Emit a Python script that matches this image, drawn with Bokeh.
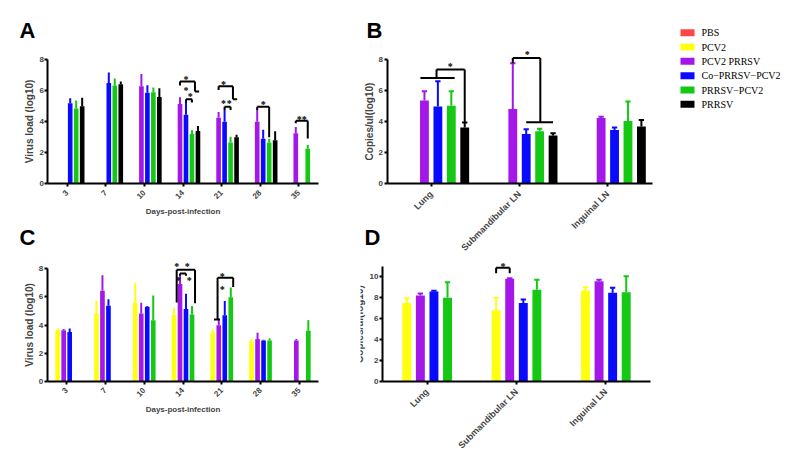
import math
from bokeh.plotting import figure
from bokeh.models import (ColumnDataSource, FactorRange, Range1d, Label, LabelSet)
from bokeh.transform import dodge
from bokeh.layouts import row, column
from bokeh.embed import file_html
from bokeh.resources import INLINE

FONT = "Liberation Sans"

groups = ["PBS", "PCV2", "PCV2  PRRSV", "Co\u2212PRRSV\u2212PCV2", "PRRSV\u2212PCV2", "PRRSV"]
colors = ["#ff4545", "#ffff10", "#a318e8", "#0a0aff", "#14c814", "#000000"]

days = ["3", "7", "10", "14", "21", "28", "35"]
tissues = ["Lung", "Submandibular LN", "Inguinal LN"]

# ---------------- Panel A : virus load by day ----------------
A_mean_PCV2_PRRSV = [None, None, 6.30, 5.15, 4.25, 4.00, 3.25]
A_sd_PCV2_PRRSV = [None, None, 0.78, 0.43, 0.37, 0.78, 0.40]
A_mean_Co = [5.20, 6.50, 5.88, 4.45, 4.00, 2.90, None]
A_sd_Co = [0.32, 0.68, 0.48, 0.85, 0.75, 0.58, None]
A_mean_PRRSV_PCV2 = [4.85, 6.35, 5.90, 3.20, 2.65, 2.65, 2.25]
A_sd_PRRSV_PCV2 = [0.53, 0.45, 0.32, 0.25, 0.37, 0.25, 0.25]
A_mean_PRRSV = [5.00, 6.42, 5.60, 3.40, 3.00, 2.80, None]
A_sd_PRRSV = [0.55, 0.18, 0.57, 0.32, 0.15, 0.58, None]

# significance brackets: (category, slot0, y0, slot1, y1)
A_brackets = [
    ("14", 2, 6.35, 2, 6.6), ("14", 2, 6.6, 4.5, 6.6), ("14", 4.5, 6.6, 4.5, 5.95), ("14", 4.5, 5.95, 5.2, 5.95),
    ("14", 3, 5.25, 3, 5.45), ("14", 3, 5.45, 4, 5.45), ("14", 4, 5.45, 4, 5.25),
    ("21", 2, 6.05, 2, 6.3), ("21", 2, 6.3, 4.4, 6.3), ("21", 4.4, 6.3, 4.4, 5.45), ("21", 4.4, 5.45, 5.1, 5.45),
    ("21", 3, 4.75, 3, 4.97), ("21", 3, 4.97, 4, 4.97), ("21", 4, 4.97, 4, 4.75),
    ("28", 2, 4.75, 2, 4.97), ("28", 2, 4.97, 4, 4.97), ("28", 4, 4.97, 4, 3.0),
    ("35", 2, 3.9, 2, 4.06), ("35", 2, 4.06, 4, 4.06), ("35", 4, 4.06, 4, 2.92),
]
A_stars = [("14", 3.0, 6.75, "*"), ("14", 3.0, 6.0, "*"), ("14", 3.7, 5.6, "*"),
           ("21", 2.8, 6.4, "*"), ("21", 2.8, 5.2, "*"), ("21", 3.8, 5.2, "*"),
           ("28", 3.0, 5.1, "*"), ("35", 3.0, 4.15, "**")]

# ---------------- Panel B : copies in tissues ----------------
B_mean_PCV2_PRRSV = [5.35, 4.80, 4.22]
B_sd_PCV2_PRRSV = [0.60, 2.96, 0.08]
B_mean_Co = [4.96, 3.20, 3.45]
B_sd_Co = [1.64, 0.30, 0.17]
B_mean_PRRSV_PCV2 = [5.02, 3.37, 4.04]
B_sd_PRRSV_PCV2 = [0.93, 0.17, 1.25]
B_mean_PRRSV = [3.62, 3.10, 3.68]
B_sd_PRRSV = [0.32, 0.14, 0.42]

B_brackets = [
    ("Lung", 1.7, 6.81, 4.25, 6.81), ("Lung", 2.9, 6.81, 2.9, 7.35), ("Lung", 2.9, 7.35, 5.0, 7.35),
    ("Lung", 5.0, 7.35, 5.0, 3.95),
    ("Submandibular LN", 2, 7.76, 2, 8.1), ("Submandibular LN", 2, 8.1, 4.05, 8.1),
    ("Submandibular LN", 4.05, 8.1, 4.05, 3.95), ("Submandibular LN", 3, 3.95, 5, 3.95),
]
B_stars = [("Lung", 3.93, 7.55, "*"), ("Submandibular LN", 3.07, 8.3, "*")]

# ---------------- Panel C : virus load by day ----------------
C_mean_PCV2 = [3.65, 4.82, 5.59, 4.72, 3.49, 2.85, None]
C_sd_PCV2 = [0.10, 0.91, 1.41, 0.51, 0.20, 0.15, None]
C_mean_PCV2_PRRSV = [3.62, 6.43, 4.82, 6.92, 3.98, 3.00, 2.90]
C_sd_PCV2_PRRSV = [0.10, 1.11, 0.77, 0.62, 0.48, 0.45, 0.10]
C_mean_Co = [3.50, 5.37, 5.30, 5.13, 4.70, 2.90, None]
C_sd_Co = [0.25, 0.46, 0.05, 1.09, 1.01, 0.05, None]
C_mean_PRRSV_PCV2 = [None, None, 4.34, 4.75, 5.98, 2.90, 3.60]
C_sd_PRRSV_PCV2 = [None, None, 1.76, 0.60, 0.69, 0.15, 0.75]

C_brackets = [
    ("14", 1.45, 5.6, 1.45, 7.94), ("14", 1.45, 7.94, 4.5, 7.94), ("14", 4.5, 7.94, 4.5, 5.55),
    ("14", 2, 7.5, 2, 7.67), ("14", 2, 7.67, 3, 7.67), ("14", 3, 7.67, 3, 7.5),
    ("21", 1.2, 4.4, 2.2, 4.4), ("21", 1.8, 4.4, 1.8, 7.37), ("21", 1.8, 7.37, 4.4, 7.37),
    ("21", 4.4, 7.37, 4.4, 6.7),
]
C_stars = [("14", 1.45, 8.15, "*"), ("14", 3.2, 8.15, "*"), ("14", 1.7, 7.15, "*"), ("14", 3.55, 7.15, "*"),
           ("21", 2.6, 7.45, "*"), ("21", 2.6, 6.55, "*")]

# ---------------- Panel D : copies in tissues ----------------
D_mean_PCV2 = [7.48, 6.78, 8.66]
D_sd_PCV2 = [0.45, 1.18, 0.32]
D_mean_PCV2_PRRSV = [8.18, 9.78, 9.55]
D_sd_PCV2_PRRSV = [0.20, 0.06, 0.13]
D_mean_Co = [8.57, 7.48, 8.44]
D_sd_Co = [0.06, 0.32, 0.48]
D_mean_PRRSV_PCV2 = [7.96, 8.73, 8.50]
D_sd_PRRSV_PCV2 = [1.50, 0.95, 1.53]

D_brackets = [("Submandibular LN", 1, 10.3, 1, 10.83), ("Submandibular LN", 1, 10.83, 2, 10.83),
              ("Submandibular LN", 2, 10.83, 2, 10.3)]
D_stars = [("Submandibular LN", 1.5, 10.95, "*")]


def make_fig(cats, pad, border_l, frame_w, border_r, canvas_h, y0px, ppu, ytop, yticks):
    """Frame fills the canvas; axes are pinned at x=0 / y=0 with fixed_location."""
    p = figure(x_range=FactorRange(*cats, range_padding=pad, range_padding_units="absolute"),
               y_range=Range1d(-(canvas_h - y0px) / ppu, y0px / ppu),
               frame_width=frame_w, frame_height=canvas_h,
               min_border_left=border_l, min_border_right=border_r,
               min_border_top=0, min_border_bottom=0, title=None,
               output_backend="svg", toolbar_location=None)
    p.xgrid.visible = False
    p.ygrid.visible = False
    p.outline_line_color = None
    p.background_fill_color = "white"
    p.border_fill_color = "white"
    for ax in p.axis:
        ax.axis_line_width = 2
        ax.major_tick_line_width = 2
        ax.major_tick_out = 3
        ax.major_tick_in = 0
        ax.minor_tick_line_color = None
        ax.major_label_text_font = FONT
        ax.major_label_text_font_style = "bold"
        ax.major_label_text_font_size = "8px"
        ax.axis_label_text_font = FONT
        ax.axis_label_text_font_style = "bold"
    p.yaxis.fixed_location = 0
    p.yaxis.bounds = (0, ytop)
    p.yaxis.ticker = yticks
    p.yaxis.major_label_standoff = 1
    p.xaxis.fixed_location = 0
    p.xaxis.bounds = (0, len(cats))
    p.xaxis.major_label_orientation = math.pi / 4
    return p


def draw_bars(p, cats, series, spacing, width, caps):
    for gi, means, sds in series:
        xs, tops, errs = [], [], []
        for c, m, s in zip(cats, means, sds):
            if m is None:
                continue
            xs.append(c)
            tops.append(m)
            errs.append(m + s)
        src = ColumnDataSource(dict(cat=xs, top=tops, err=errs))
        off = (gi - 2.5) * spacing
        xd = dodge("cat", off, range=p.x_range)
        p.vbar(x=xd, top="top", width=width, source=src,
               fill_color=colors[gi], line_color=None)
        p.segment(x0=xd, y0="top", x1=xd, y1="err", source=src,
                  line_color=colors[gi], line_width=2)
        if caps:
            p.rect(x=xd, y="err", width=width * 0.6, height=2, height_units="screen",
                   source=src, fill_color=colors[gi], line_color=None)


def draw_sig(p, brackets, stars, spacing):
    src = ColumnDataSource(dict(
        x0=[(c, (s0 - 2.5) * spacing) for c, s0, y0, s1, y1 in brackets],
        y0=[y0 for c, s0, y0, s1, y1 in brackets],
        x1=[(c, (s1 - 2.5) * spacing) for c, s0, y0, s1, y1 in brackets],
        y1=[y1 for c, s0, y0, s1, y1 in brackets]))
    p.segment(x0="x0", y0="y0", x1="x1", y1="y1", source=src,
              line_color="black", line_width=2)
    ssrc = ColumnDataSource(dict(
        x=[(c, (s - 2.5) * spacing) for c, s, y, t in stars],
        y=[y for c, s, y, t in stars],
        t=[t for c, s, y, t in stars]))
    p.add_layout(LabelSet(x="x", y="y", text="t", source=ssrc, text_align="center",
                          text_baseline="middle", text_font=FONT, text_font_style="bold",
                          text_font_size="10px", text_color="black"))


def letter(p, txt, x, y):
    p.add_layout(Label(x=x, y=y, x_units="screen", y_units="screen", text=txt,
                       text_font=FONT, text_font_style="bold", text_font_size="22px",
                       text_baseline="middle", text_color="black"))


SP_DAY, W_DAY = 0.155, 0.12
SP_TIS, W_TIS = 0.152, 0.10

# Panel A  (canvas 350 x 225 at top-left)
pA = make_fig(days, 0.84, 15, 335, 0, 225, 183.0, 15.45, 8, [0, 2, 4, 6, 8])
draw_bars(pA, days, [(2, A_mean_PCV2_PRRSV, A_sd_PCV2_PRRSV), (3, A_mean_Co, A_sd_Co),
                     (4, A_mean_PRRSV_PCV2, A_sd_PRRSV_PCV2), (5, A_mean_PRRSV, A_sd_PRRSV)],
          SP_DAY, W_DAY, False)
draw_sig(pA, A_brackets, A_stars, SP_DAY)
pA.yaxis.axis_label = "Virus load (log10)"
pA.yaxis.axis_label_text_font_size = "10px"
pA.yaxis.axis_label_standoff = 1
pA.xaxis.axis_label = "Days-post-infection"
pA.xaxis.axis_label_text_font_size = "8px"
pA.xaxis.axis_label_standoff = 3
pA.xaxis.major_label_standoff = 5
letter(pA, "A", 4, 195)

# Panel C  (canvas 350 x 195 below A)
pC = make_fig(days, 0.82, 15, 335, 0, 195, 155.7, 14.05, 8, [0, 2, 4, 6, 8])
draw_bars(pC, days, [(1, C_mean_PCV2, C_sd_PCV2), (2, C_mean_PCV2_PRRSV, C_sd_PCV2_PRRSV),
                     (3, C_mean_Co, C_sd_Co), (4, C_mean_PRRSV_PCV2, C_sd_PRRSV_PCV2)],
          SP_DAY, W_DAY, False)
draw_sig(pC, C_brackets, C_stars, SP_DAY)
pC.yaxis.axis_label = "Virus load (log10)"
pC.yaxis.axis_label_text_font_size = "10px"
pC.yaxis.axis_label_standoff = 1
pC.xaxis.axis_label = "Days-post-infection"
pC.xaxis.axis_label_text_font_size = "8px"
pC.xaxis.axis_label_standoff = 3
pC.xaxis.major_label_standoff = 5
letter(pC, "C", 4, 183)

# Panel B  (canvas 328 x 258, right of A)
pB = make_fig(tissues, 0.30, 10, 318, 0, 258, 183.0, 15.5, 8, [0, 2, 4, 6, 8])
draw_bars(pB, tissues, [(2, B_mean_PCV2_PRRSV, B_sd_PCV2_PRRSV), (3, B_mean_Co, B_sd_Co),
                        (4, B_mean_PRRSV_PCV2, B_sd_PRRSV_PCV2), (5, B_mean_PRRSV, B_sd_PRRSV)],
          SP_TIS, W_TIS, True)
draw_sig(pB, B_brackets, B_stars, SP_TIS)
pB.yaxis.axis_label = "Copies/ul(log10)"
pB.yaxis.axis_label_text_font_size = "10px"
pB.yaxis.axis_label_standoff = 1
pB.xaxis.major_label_text_font_size = "9px"
pB.xaxis.major_label_standoff = 6
letter(pB, "B", 6, 228)
letter(pB, "D", 4, 21)

# Panel D  (canvas 329 x 194 below B)
pD = make_fig(tissues, 0.246, 10, 312, 7, 194, 122.7, 10.47, 11, [0, 2, 4, 6, 8, 10])
draw_bars(pD, tissues, [(1, D_mean_PCV2, D_sd_PCV2), (2, D_mean_PCV2_PRRSV, D_sd_PCV2_PRRSV),
                        (3, D_mean_Co, D_sd_Co), (4, D_mean_PRRSV_PCV2, D_sd_PRRSV_PCV2)],
          SP_TIS, W_TIS, True)
draw_sig(pD, D_brackets, D_stars, SP_TIS)
pD.yaxis.axis_label = "Copies/ul(log10)"
pD.yaxis.axis_label_text_font_size = "10px"
pD.yaxis.axis_label_standoff = 2
pD.xaxis.major_label_text_font_size = "9px"
pD.xaxis.major_label_standoff = 6

# Legend panel drawn from the group list
pL = figure(x_range=Range1d(0, 116), y_range=FactorRange(*reversed(groups)),
            frame_width=116, frame_height=86, min_border_left=0, min_border_right=0,
            min_border_top=25, min_border_bottom=0, title=None,
            output_backend="svg", toolbar_location=None,
            x_axis_location=None, y_axis_location=None)
pL.xgrid.visible = False
pL.ygrid.visible = False
pL.outline_line_color = None
lsrc = ColumnDataSource(dict(g=groups, c=colors))
pL.rect(x=8, y="g", width=14, height=7, width_units="screen", height_units="screen",
        fill_color="c", line_color=None, source=lsrc)
pL.text(x=22, y="g", text="g", source=lsrc, text_baseline="middle", text_align="left",
        text_font="Liberation Serif", text_font_size="10px", text_color="black")

layout = row(column(pA, pC), column(pB, pD), pL)
open("out.html", "w").write(file_html(layout, INLINE))
